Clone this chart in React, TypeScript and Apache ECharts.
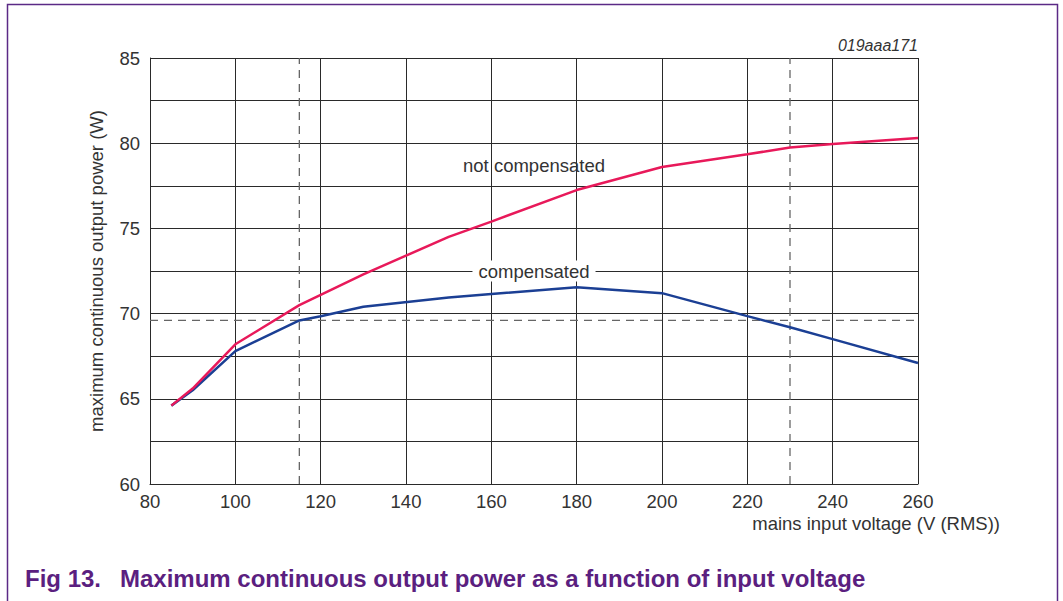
import React, { useEffect, useRef } from "react";
import * as echarts from "echarts";

const voltsNotComp = [85, 90, 100, 115, 120, 130, 140, 150, 160, 180, 200, 220, 230, 240, 260];
const powerNotComp = [64.6, 65.6, 68.2, 70.5, 71.1, 72.3, 73.4, 74.5, 75.4, 77.25, 78.6, 79.35, 79.75, 79.95, 80.3];
const voltsComp = [85, 90, 100, 115, 120, 130, 150, 160, 180, 200, 220, 230, 240, 260];
const powerComp = [64.6, 65.5, 67.8, 69.6, 69.85, 70.4, 70.95, 71.15, 71.55, 71.2, 69.85, 69.2, 68.5, 67.1];
const refVoltages = [115, 230];
const refPower = 69.6;
const labelNotComp = { text: "not compensated", x: 170, y: 78.7 };
const labelComp = { text: "compensated", x: 170, y: 72.5 };

const FONT = "'Liberation Sans', Arial, sans-serif";
const FS = 18.5;

export default function App() {
  const ref = useRef<HTMLDivElement>(null);
  useEffect(() => {
    const chart = echarts.init(ref.current!, undefined, { renderer: "svg" });
    const gridColor = "#2a2a2a";
    const dash = { color: "#666", width: 1.3, type: [8, 6] as number[] };
    chart.setOption({
      animation: false,
      grid: { left: 150, right: 145, top: 58, bottom: 117 },
      xAxis: {
        type: "value",
        min: 80,
        max: 260,
        interval: 20,
        axisLine: { show: true, lineStyle: { color: gridColor, width: 1 } },
        axisTick: { show: false },
        splitLine: { show: true, lineStyle: { color: gridColor, width: 1 } },
        axisLabel: { color: "#333", fontFamily: FONT, fontSize: FS, margin: 8 },
      },
      yAxis: {
        type: "value",
        min: 60,
        max: 85,
        interval: 2.5,
        name: "maximum continuous output power (W)",
        nameLocation: "middle",
        nameGap: 44,
        nameRotate: 90,
        nameTextStyle: { color: "#333", fontFamily: FONT, fontSize: FS },
        axisLine: { show: true, lineStyle: { color: gridColor, width: 1 } },
        axisTick: { show: false },
        splitLine: { show: true, lineStyle: { color: gridColor, width: 1 } },
        axisLabel: {
          color: "#333",
          fontFamily: FONT,
          fontSize: FS,
          margin: 10,
          formatter: (v: number) => (v % 5 === 0 ? String(v) : ""),
        },
      },
      graphic: [
        {
          type: "rect",
          shape: { x: 7.5, y: 4.5, width: 1050, height: 620 },
          style: { fill: "none", stroke: "#5b2a86", lineWidth: 1.5 },
          silent: true,
        },
        {
          type: "text",
          right: 145,
          top: 37,
          style: { text: "019aaa171", font: `italic 16px ${FONT}`, fill: "#333" },
        },
        {
          type: "text",
          right: 63,
          top: 514,
          style: { text: "mains input voltage (V (RMS))", font: `${FS}px ${FONT}`, fill: "#333" },
        },
        {
          type: "text",
          left: 25,
          top: 566,
          style: { text: "Fig 13.", font: `bold 24px ${FONT}`, fill: "#5b1f80" },
        },
        {
          type: "text",
          left: 120,
          top: 566,
          style: {
            text: "Maximum continuous output power as a function of input voltage",
            font: `bold 24px ${FONT}`,
            fill: "#5b1f80",
          },
        },
      ],
      series: [
        {
          type: "line",
          name: "ref115",
          data: [[refVoltages[0], 60], [refVoltages[0], 85]],
          showSymbol: false,
          lineStyle: dash,
          z: 2,
        },
        {
          type: "line",
          name: "ref230",
          data: [[refVoltages[1], 60], [refVoltages[1], 85]],
          showSymbol: false,
          lineStyle: dash,
          z: 2,
        },
        {
          type: "line",
          name: "refP",
          data: [[80, refPower], [260, refPower]],
          showSymbol: false,
          lineStyle: dash,
          z: 2,
        },
        {
          type: "line",
          name: "compensated",
          data: voltsComp.map((v, i) => [v, powerComp[i]]),
          showSymbol: false,
          lineStyle: { color: "#1b3f94", width: 2.5 },
          itemStyle: { color: "#1b3f94" },
          z: 3,
          markPoint: {
            symbol: "rect",
            symbolSize: 0,
            data: [
              {
                coord: [labelComp.x, labelComp.y],
                label: {
                  show: true,
                  position: "inside",
                  formatter: labelComp.text,
                  color: "#333",
                  fontFamily: FONT,
                  fontSize: FS,
                  backgroundColor: "#fff",
                  padding: [1, 6],
                },
              },
            ],
          },
        },
        {
          type: "line",
          name: "not compensated",
          data: voltsNotComp.map((v, i) => [v, powerNotComp[i]]),
          showSymbol: false,
          lineStyle: { color: "#e8195a", width: 2.5 },
          itemStyle: { color: "#e8195a" },
          z: 4,
          markPoint: {
            symbol: "rect",
            symbolSize: 0,
            data: [
              {
                coord: [labelNotComp.x, labelNotComp.y],
                label: {
                  show: true,
                  position: "inside",
                  formatter: labelNotComp.text,
                  color: "#333",
                  fontFamily: FONT,
                  fontSize: FS,
                },
              },
            ],
          },
        },
      ],
    });
    return () => chart.dispose();
  }, []);
  return (
    <div
      ref={ref}
      style={{ position: "absolute", left: 0, top: 0, width: 1063, height: 601, background: "#fff" }}
    />
  );
}
